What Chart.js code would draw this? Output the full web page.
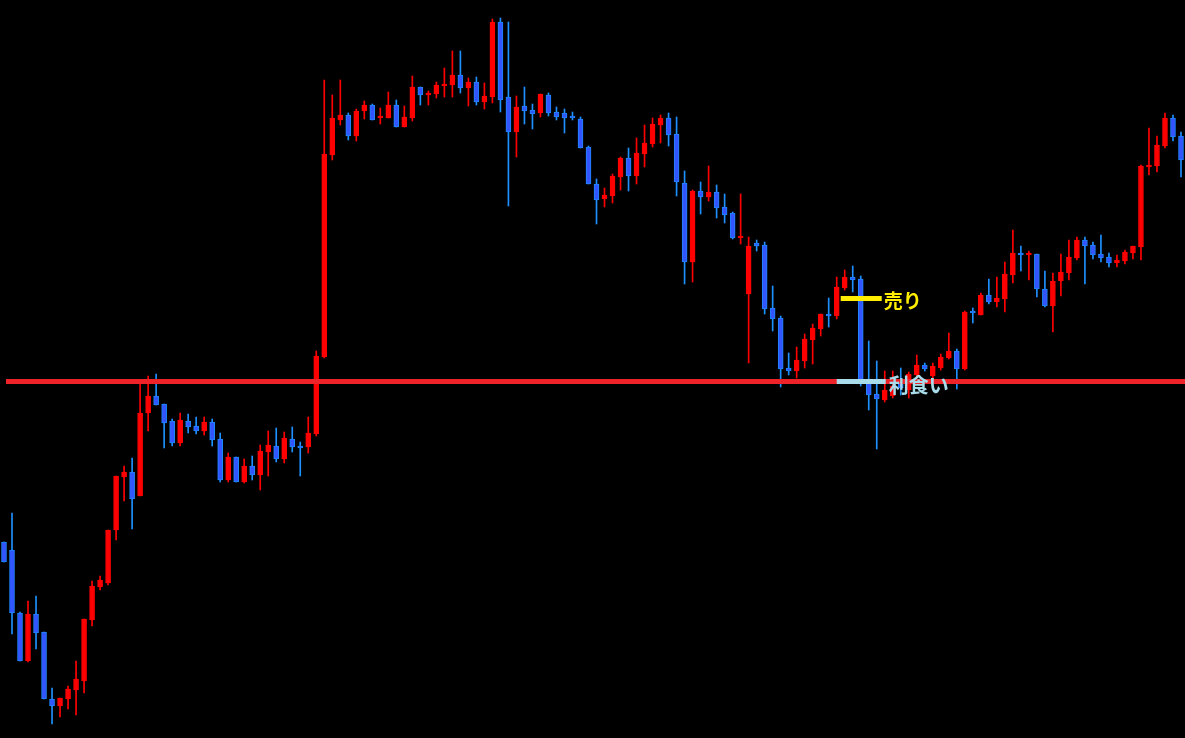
<!DOCTYPE html>
<html>
<head>
<meta charset="utf-8">
<script src="https://cdn.jsdelivr.net/npm/chart.js@4.4.1/dist/chart.umd.min.js"></script>
<style>
  html, body { margin: 0; padding: 0; background: #000; overflow: hidden; }
  #wrap { width: 1185px; height: 738px; }
</style>
</head>
<body>
<div id="wrap"><canvas id="candleChart" width="1185" height="738"></canvas></div>
<script>
// Candle data (price units, 148 candles)
const opens = [
  196,188,125,77,124,106,39,32,39,48,
  57,118,151,155,208,261,266,242,325,342,
  334,317,295,317,312,307,316,299,258,281,
  256,272,263,286,292,279,299,292,291,304,
  381,583,618,623,602,627,633,620,620,633,
  611,620,651,643,644,652,653,663,650,656,
  636,641,716,641,606,632,628,625,643,626,
  625,621,619,591,554,539,542,561,580,562,
  584,594,613,620,604,555,476,547,541,546,
  531,525,500,444,495,493,430,420,370,367,
  377,398,409,424,422,450,461,459,355,344,
  338,342,355,348,363,373,362,370,380,387,
  369,426,423,443,436,439,463,485,483,484,
  449,432,457,465,480,498,493,484,481,475,
  477,485,491,571,572,592,620,602
];
const highs = [
  196,225,126,137,142,106,50,40,52,77,
  119,157,162,208,262,272,280,355,362,364,
  334,319,325,324,321,321,319,305,285,281,
  279,282,293,307,310,306,311,296,321,387,
  658,643,658,625,629,637,634,630,646,638,
  632,662,651,647,656,670,687,687,660,661,
  655,719,720,716,642,651,634,644,645,631,
  629,626,621,592,559,550,564,581,590,600,
  613,620,623,625,621,567,548,556,572,553,
  544,526,544,501,498,496,452,422,385,391,
  404,414,424,440,461,468,472,462,397,377,
  367,367,370,366,383,375,375,384,405,389,
  427,430,445,459,461,476,508,492,487,484,
  467,465,484,498,501,501,496,503,485,483,
  488,492,573,610,602,625,623,606
];
const lows = [
  176,104,77,76,89,39,14,21,29,23,
  45,112,148,153,198,237,209,242,307,333,
  290,292,292,305,304,303,292,256,256,256,
  255,258,248,262,276,275,286,262,285,302,
  380,578,613,598,597,619,618,614,620,611,
  611,617,633,633,640,641,641,645,632,633,
  629,635,626,532,581,614,609,621,622,618,
  605,618,590,554,514,531,535,548,547,554,
  571,591,595,592,542,454,456,524,537,520,
  515,499,494,375,487,424,407,351,363,360,
  370,374,402,411,419,448,446,352,328,289,
  336,340,343,340,360,367,358,368,379,349,
  368,415,423,434,431,426,455,467,458,441,
  431,406,442,458,478,454,479,476,471,471,
  474,479,478,563,566,590,597,561
];
const closes = [
  176,125,77,124,105,39,32,40,49,59,
  119,152,158,208,262,266,239,325,342,333,
  315,295,318,311,307,316,298,258,281,256,
  272,263,287,293,279,300,291,290,305,382,
  584,620,623,602,627,633,618,621,633,611,
  621,651,643,645,653,654,663,650,656,636,
  642,716,638,606,631,627,624,644,625,621,
  620,620,590,554,538,543,562,580,562,585,
  595,614,620,603,556,476,547,541,546,530,
  523,500,502,492,492,429,419,369,367,378,
  399,410,424,422,451,461,458,355,343,339,
  348,352,350,364,373,369,372,381,387,369,
  426,425,443,436,440,464,485,483,485,449,
  432,457,466,481,498,492,483,480,475,478,
  486,492,572,573,593,620,601,578
];
const labels = opens.map((_, i) => String(i + 1));

// Levels and notes
const levelPrice = 356.5;     // long red horizontal line
const sellPrice = 439.5;      // yellow "売り" mark
const sellText = '売り';
const takeProfitText = '利食い';
const noteCandle = 104;       // candle where the marks start

const upColor = '#ff0000';
const downFill = '#3355ff';
const downBorder = '#1e88ff';
const downWick = '#1e90ff';

const isUp = opens.map((o, i) => closes[i] >= o);

const levelLines = {
  id: 'levelLines',
  afterDatasetsDraw(chart) {
    const { ctx, chartArea, scales: { x, y } } = chart;
    ctx.save();
    // main level line
    const yl = y.getPixelForValue(levelPrice);
    ctx.strokeStyle = '#ee2229';
    ctx.lineWidth = 5;
    ctx.beginPath();
    ctx.moveTo(6, yl);
    ctx.lineTo(chartArea.right, yl);
    ctx.stroke();

    // yellow sell mark
    const ys = y.getPixelForValue(sellPrice);
    ctx.strokeStyle = '#ffee00';
    ctx.beginPath();
    ctx.moveTo(x.getPixelForValue(noteCandle) + 4, ys);
    ctx.lineTo(x.getPixelForValue(noteCandle + 5) + 5, ys);
    ctx.stroke();

    // light blue take profit mark
    ctx.strokeStyle = '#a8dcea';
    ctx.beginPath();
    ctx.moveTo(x.getPixelForValue(noteCandle), yl);
    ctx.lineTo(x.getPixelForValue(noteCandle + 6) + 1, yl);
    ctx.stroke();

    ctx.textBaseline = 'middle';
    ctx.textAlign = 'left';
    ctx.font = 'bold 19px "Noto Sans CJK JP"';
    ctx.fillStyle = '#ffee00';
    ctx.fillText(sellText, x.getPixelForValue(noteCandle + 6) - 1, ys + 2);
    ctx.font = 'bold 20px "Noto Sans CJK JP"';
    ctx.fillStyle = '#a8dcea';
    ctx.fillText(takeProfitText, x.getPixelForValue(noteCandle + 6) + 4, yl + 4);
    ctx.restore();
  }
};

const ctx = document.getElementById('candleChart').getContext('2d');
new Chart(ctx, {
  type: 'bar',
  data: {
    labels: labels,
    datasets: [
      {
        label: 'body',
        data: opens.map((o, i) => [o, closes[i]]),
        backgroundColor: isUp.map(u => u ? upColor : downFill),
        borderColor: isUp.map(u => u ? upColor : downBorder),
        borderWidth: 1,
        borderSkipped: false,
        barThickness: 5,
        minBarLength: 2,
        grouped: false,
        order: 0
      },
      {
        label: 'wick',
        data: lows.map((l, i) => [l, highs[i]]),
        backgroundColor: isUp.map(u => u ? upColor : downWick),
        borderWidth: 0,
        barThickness: 1,
        grouped: false,
        order: 1
      }
    ]
  },
  options: {
    responsive: false,
    animation: false,
    layout: { padding: 0 },
    plugins: {
      legend: { display: false },
      tooltip: { enabled: false }
    },
    scales: {
      x: { display: false, grid: { display: false } },
      y: { display: false, min: 0, max: 738, grid: { display: false } }
    }
  },
  plugins: [levelLines]
});
</script>
</body>
</html>
